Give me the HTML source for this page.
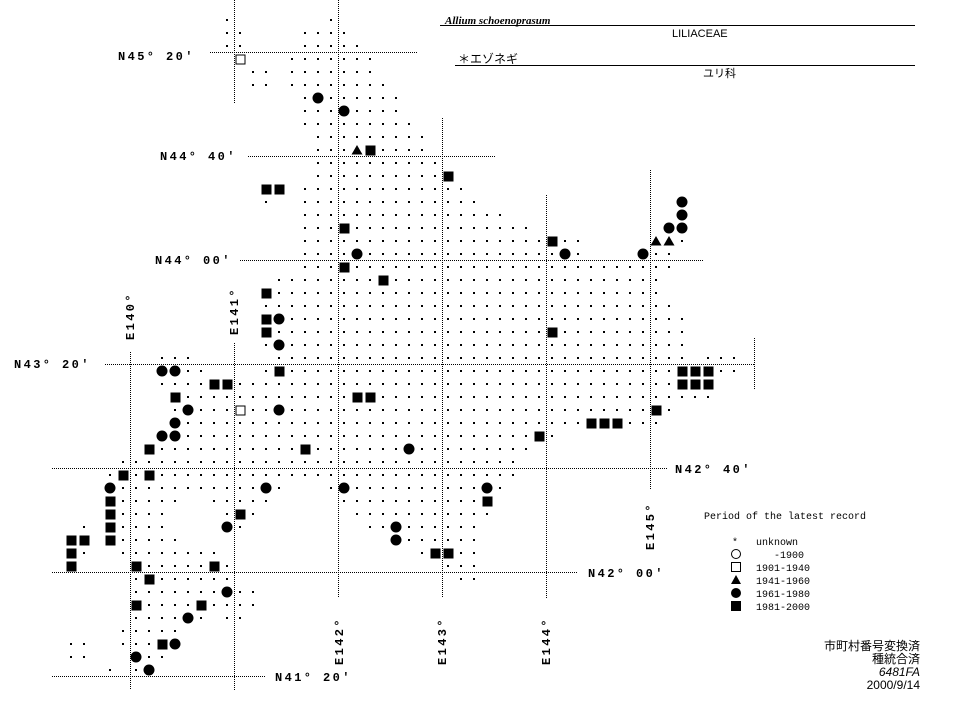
<!DOCTYPE html>
<html><head><meta charset="utf-8"><style>
html,body{margin:0;padding:0;background:#fff;}
svg{display:block;}
.lab{font-family:"Liberation Mono",monospace;font-size:12px;font-weight:bold;letter-spacing:2.4px;fill:#000;}
.leg{font-family:"Liberation Mono",monospace;font-size:10px;fill:#000;}
.jp{font-family:"Liberation Sans","Noto Sans CJK JP",sans-serif;font-size:11px;fill:#000;}
</style></head><body>
<svg id="s" width="957" height="703" viewBox="0 0 957 703" xmlns="http://www.w3.org/2000/svg">
<g stroke="#000" stroke-width="1" stroke-dasharray="1,1" fill="none">
<line x1="210" y1="52.5" x2="417" y2="52.5"/>
<line x1="248" y1="156.5" x2="495" y2="156.5"/>
<line x1="240" y1="260.5" x2="703" y2="260.5"/>
<line x1="105" y1="364.5" x2="754" y2="364.5"/>
<line x1="52" y1="468.5" x2="668" y2="468.5"/>
<line x1="52" y1="572.5" x2="578" y2="572.5"/>
<line x1="52" y1="676.5" x2="265" y2="676.5"/>
<line x1="130.5" y1="352" x2="130.5" y2="690"/>
<line x1="234.5" y1="0" x2="234.5" y2="104"/>
<line x1="234.5" y1="343" x2="234.5" y2="690"/>
<line x1="338.5" y1="0" x2="338.5" y2="598"/>
<line x1="442.5" y1="118" x2="442.5" y2="598"/>
<line x1="546.5" y1="195" x2="546.5" y2="598"/>
<line x1="650.5" y1="170" x2="650.5" y2="490"/>
<line x1="754.5" y1="338" x2="754.5" y2="390"/>
</g>
<g class="lab">
<text x="118" y="60">N45° 20′</text>
<text x="160" y="160">N44° 40′</text>
<text x="155" y="264">N44° 00′</text>
<text x="14" y="368">N43° 20′</text>
<text x="675" y="473">N42° 40′</text>
<text x="588" y="577">N42° 00′</text>
<text x="275" y="681">N41° 20′</text>
<text transform="translate(134,340) rotate(-90)">E140°</text>
<text transform="translate(238,335) rotate(-90)">E141°</text>
<text transform="translate(343,665) rotate(-90)">E142°</text>
<text transform="translate(446,665) rotate(-90)">E143°</text>
<text transform="translate(550,665) rotate(-90)">E144°</text>
<text transform="translate(654,550) rotate(-90)">E145°</text>
</g>
<text x="445" y="24" style="font-family:'Liberation Serif',serif;font-style:italic;font-weight:bold;font-size:11px">Allium schoenoprasum</text>
<line x1="440" y1="25.5" x2="915" y2="25.5" stroke="#000"/>
<text x="672" y="37" class="jp">LILIACEAE</text>
<text x="458" y="63" class="jp" style="font-size:12px">＊エゾネギ</text>
<line x1="455" y1="65.5" x2="915" y2="65.5" stroke="#000"/>
<text x="703" y="77" class="jp">ユリ科</text>
<g class="leg">
<text x="704" y="519">Period of the latest record</text>
<text x="732" y="545">*</text><text x="756" y="545">unknown</text>
<text x="774" y="558">-1900</text>
<text x="756" y="571">1901-1940</text>
<text x="756" y="584">1941-1960</text>
<text x="756" y="597">1961-1980</text>
<text x="756" y="610">1981-2000</text>
</g>
<circle cx="736" cy="554" r="4.5" fill="none" stroke="#000"/>
<rect x="731.5" y="562.5" width="9" height="9" fill="none" stroke="#000"/>
<polygon points="736,575 741,584 731,584" fill="#000"/>
<circle cx="736" cy="593" r="5" fill="#000"/>
<rect x="731" y="601" width="10" height="10" fill="#000"/>
<g class="jp" style="font-size:12px" text-anchor="end">
<text x="920" y="650">市町村番号変換済</text>
<text x="920" y="663">種統合済</text>
<text x="920" y="676" style="font-style:italic">6481FA</text>
<text x="920" y="689">2000/9/14</text>
</g>
<g id="m"></g>
</svg>
<script>
var R=[
"12,20","12,13,18-21","12,13,18-22","o13,17-23","14,15,17-23","14,15,17-24",
"18-25,c19","18-25,c21","18-26","19-27","19-27,t22,s23","19-28","19-28,s29",
"s15,s16,18-30","15,18-31","18-33,c47","18-35,s21,c46,c47",
"18-39,s37,t45,t46,47","18-39,c22,c38,c44,45,46","18-46,s21","16-45,s24","s15,16-45","15-46",
"s15,c16,17-47","s15,16-47,s37","15-47,c16","7-9,16-47,49-51",
"c7,c8,9,10,15,s16,17-46,s47,s48,s49,50,51","7-10,s11,s12,13-46,s47,s48,s49",
"s8,9-49,s22,s23","8,c9,10-12,o13,14,15,c16,17-44,s45,46","c8,9-45,s40,s41,s42",
"c7,c8,9-35,s36,37","s6,7-35,s18,c26","4-34","3,s4,5,s6,7-34",
"c3,4-14,c15,16,20,c21,22-31,c32,33","s3,4-8,11-15,21-31,s32","s3,4-7,12,s13,14,22-32",
"1,s3,4-7,c12,13,23,24,c25,26-31","s0,s1,s3,4-8,c25,26-31","s0,1,4-11,27,s28,s29,30,31",
"s0,s5,6-10,s11,12,29-31","5,s6,7-12,30,31","5-14,c12","s5,6-14,s10","5-10,c9,12,13",
"4-8","0,1,4-6,s7,c8","0,1,c5,6,7","3,5,c6"];
R[14]="c47,15,18-31";
var NS="http://www.w3.org/2000/svg",g=document.getElementById("m");
function el(n,a){var e=document.createElementNS(NS,n);for(var k in a)e.setAttribute(k,a[k]);g.appendChild(e);}
R.forEach(function(row,r){
  var y=20+13*r,sym={},dots={};
  row.split(",").forEach(function(t){
    var c=t[0];
    if("sctoa".indexOf(c)>=0&&isNaN(+c)){sym[+t.slice(1)]=c;}
    else if(t.indexOf("-")>0){var p=t.split("-");for(var i=+p[0];i<=+p[1];i++)dots[i]=1;}
    else dots[+t]=1;
  });
  for(var i in dots){if(!sym[i]){var x=71+13*i;el("rect",{x:x-1,y:y-1,width:2,height:2,fill:"#000"});}}
  for(var i in sym){var x=71+13*i,c=sym[i];
    if(c=="s")el("rect",{x:x-4.5,y:y-4.5,width:10,height:10,fill:"#000"});
    else if(c=="o")el("rect",{x:x-4,y:y-4,width:9,height:9,fill:"#fff",stroke:"#000"});
    else if(c=="c")el("circle",{cx:x,cy:y,r:5.5,fill:"#000"});
    else if(c=="t")el("polygon",{points:(x)+","+(y-5)+" "+(x+5.5)+","+(y+4.5)+" "+(x-5.5)+","+(y+4.5),fill:"#000"});
  }
});
</script>
</body></html>
